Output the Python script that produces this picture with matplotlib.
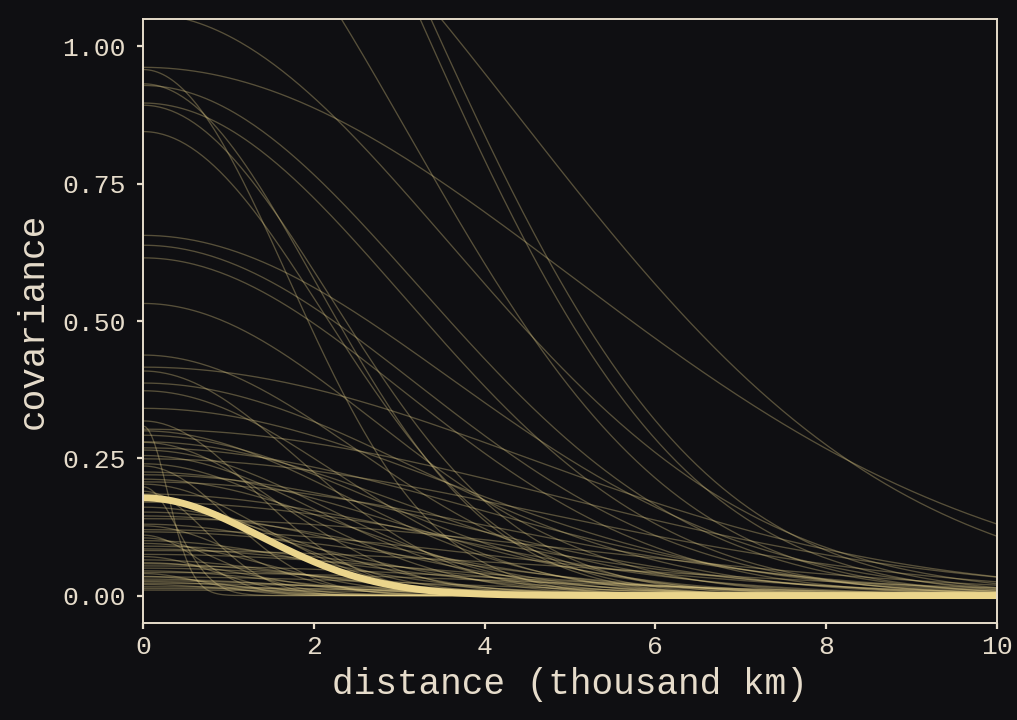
import numpy as np
import matplotlib
matplotlib.use('Agg')
import matplotlib.pyplot as plt

# posterior draws of the Gaussian kernel: cov(d) = eta * exp(-rho * d^2)
# eta = covariance at distance 0, rho = decay
eta_samples = [1.80, 1.82, 1.44, 1.39, 1.06, 0.962,
               0.958, 0.932, 0.929, 0.897, 0.893, 0.845,
               0.656, 0.638, 0.615, 0.532, 0.438, 0.416,
               0.409, 0.387, 0.373, 0.341, 0.318, 0.309, 0.303, 0.292,
               0.279, 0.269, 0.255, 0.249, 0.236, 0.225, 0.212, 0.207,
               0.203, 0.198, 0.185, 0.161, 0.152, 0.140, 0.127, 0.116,
               0.100, 0.082, 0.071, 0.054, 0.045, 0.034, 0.027, 0.022,
               0.013, 0.190, 0.170, 0.130, 0.110, 0.090, 0.060, 0.050,
               0.040, 0.030, 0.020, 0.035, 0.145, 0.095, 0.075, 0.065,
               0.300, 0.280, 0.240, 0.220, 0.265, 0.175, 0.120, 0.105,
               0.085, 0.058, 0.042, 0.025, 0.016, 0.010]
rho_samples = [0.0512, 0.0484, 0.0259, 0.052, 0.039, 0.020,
               0.174, 0.120, 0.048, 0.0535, 0.103, 0.111,
               0.039, 0.049, 0.054, 0.070, 0.080, 0.025,
               0.150, 0.050, 0.100, 0.040, 0.300, 6.000, 0.022, 0.070,
               0.200, 0.035, 0.120, 0.023, 0.500, 0.060, 0.090, 0.030,
               0.250, 3.000, 0.045, 0.150, 0.080, 0.020, 0.400, 0.050,
               0.120, 0.018, 0.700, 0.030, 0.200, 0.040, 0.100, 0.050,
               0.030, 0.900, 0.035, 0.100, 1.200, 0.060, 0.300, 0.080,
               1.000, 0.150, 0.500, 0.600, 0.060, 0.250, 0.040, 0.150,
               0.090, 0.055, 0.140, 0.040, 0.110, 0.200, 0.030, 0.600,
               0.070, 0.120, 0.025, 0.300, 0.060, 0.040]
# posterior mean kernel (thick line)
eta_mean = 0.178
rho_mean = 0.265

bg = '#0f0f12'
fg = '#e6dccb'
gold = '#ebd58c'

plt.rcParams['font.family'] = ['Liberation Mono', 'DejaVu Sans Mono']

fig = plt.figure(figsize=(10.17, 7.2), dpi=100, facecolor=bg)
ax = fig.add_axes([0.1406, 0.1347, 0.8397, 0.8389], facecolor=bg)

d = np.linspace(0, 10, 300)
for eta, rho in zip(eta_samples, rho_samples):
    ax.plot(d, eta * np.exp(-rho * d ** 2), color=gold, alpha=0.33, lw=0.95)
ax.plot(d, eta_mean * np.exp(-rho_mean * d ** 2), color=gold, lw=5,
        solid_capstyle='butt')

ax.set_xlim(0, 10)
ax.set_ylim(-0.05, 1.05)
ax.set_xticks([0, 2, 4, 6, 8, 10])
ax.set_yticks([0, 0.25, 0.5, 0.75, 1.0])
ax.set_yticklabels(['0.00', '0.25', '0.50', '0.75', '1.00'])

for s in ax.spines.values():
    s.set_color(fg)
    s.set_linewidth(1.4)
ax.tick_params(colors=fg, labelcolor=fg, labelsize=19, length=4.5,
               width=1.6, pad=8)
ax.tick_params(axis='x', pad=4)
ax.set_xlabel('distance (thousand km)', color=fg, fontsize=26, labelpad=6)
ax.set_ylabel('covariance', color=fg, fontsize=26, labelpad=8)

fig.savefig('out.png', dpi=100, facecolor=bg)
